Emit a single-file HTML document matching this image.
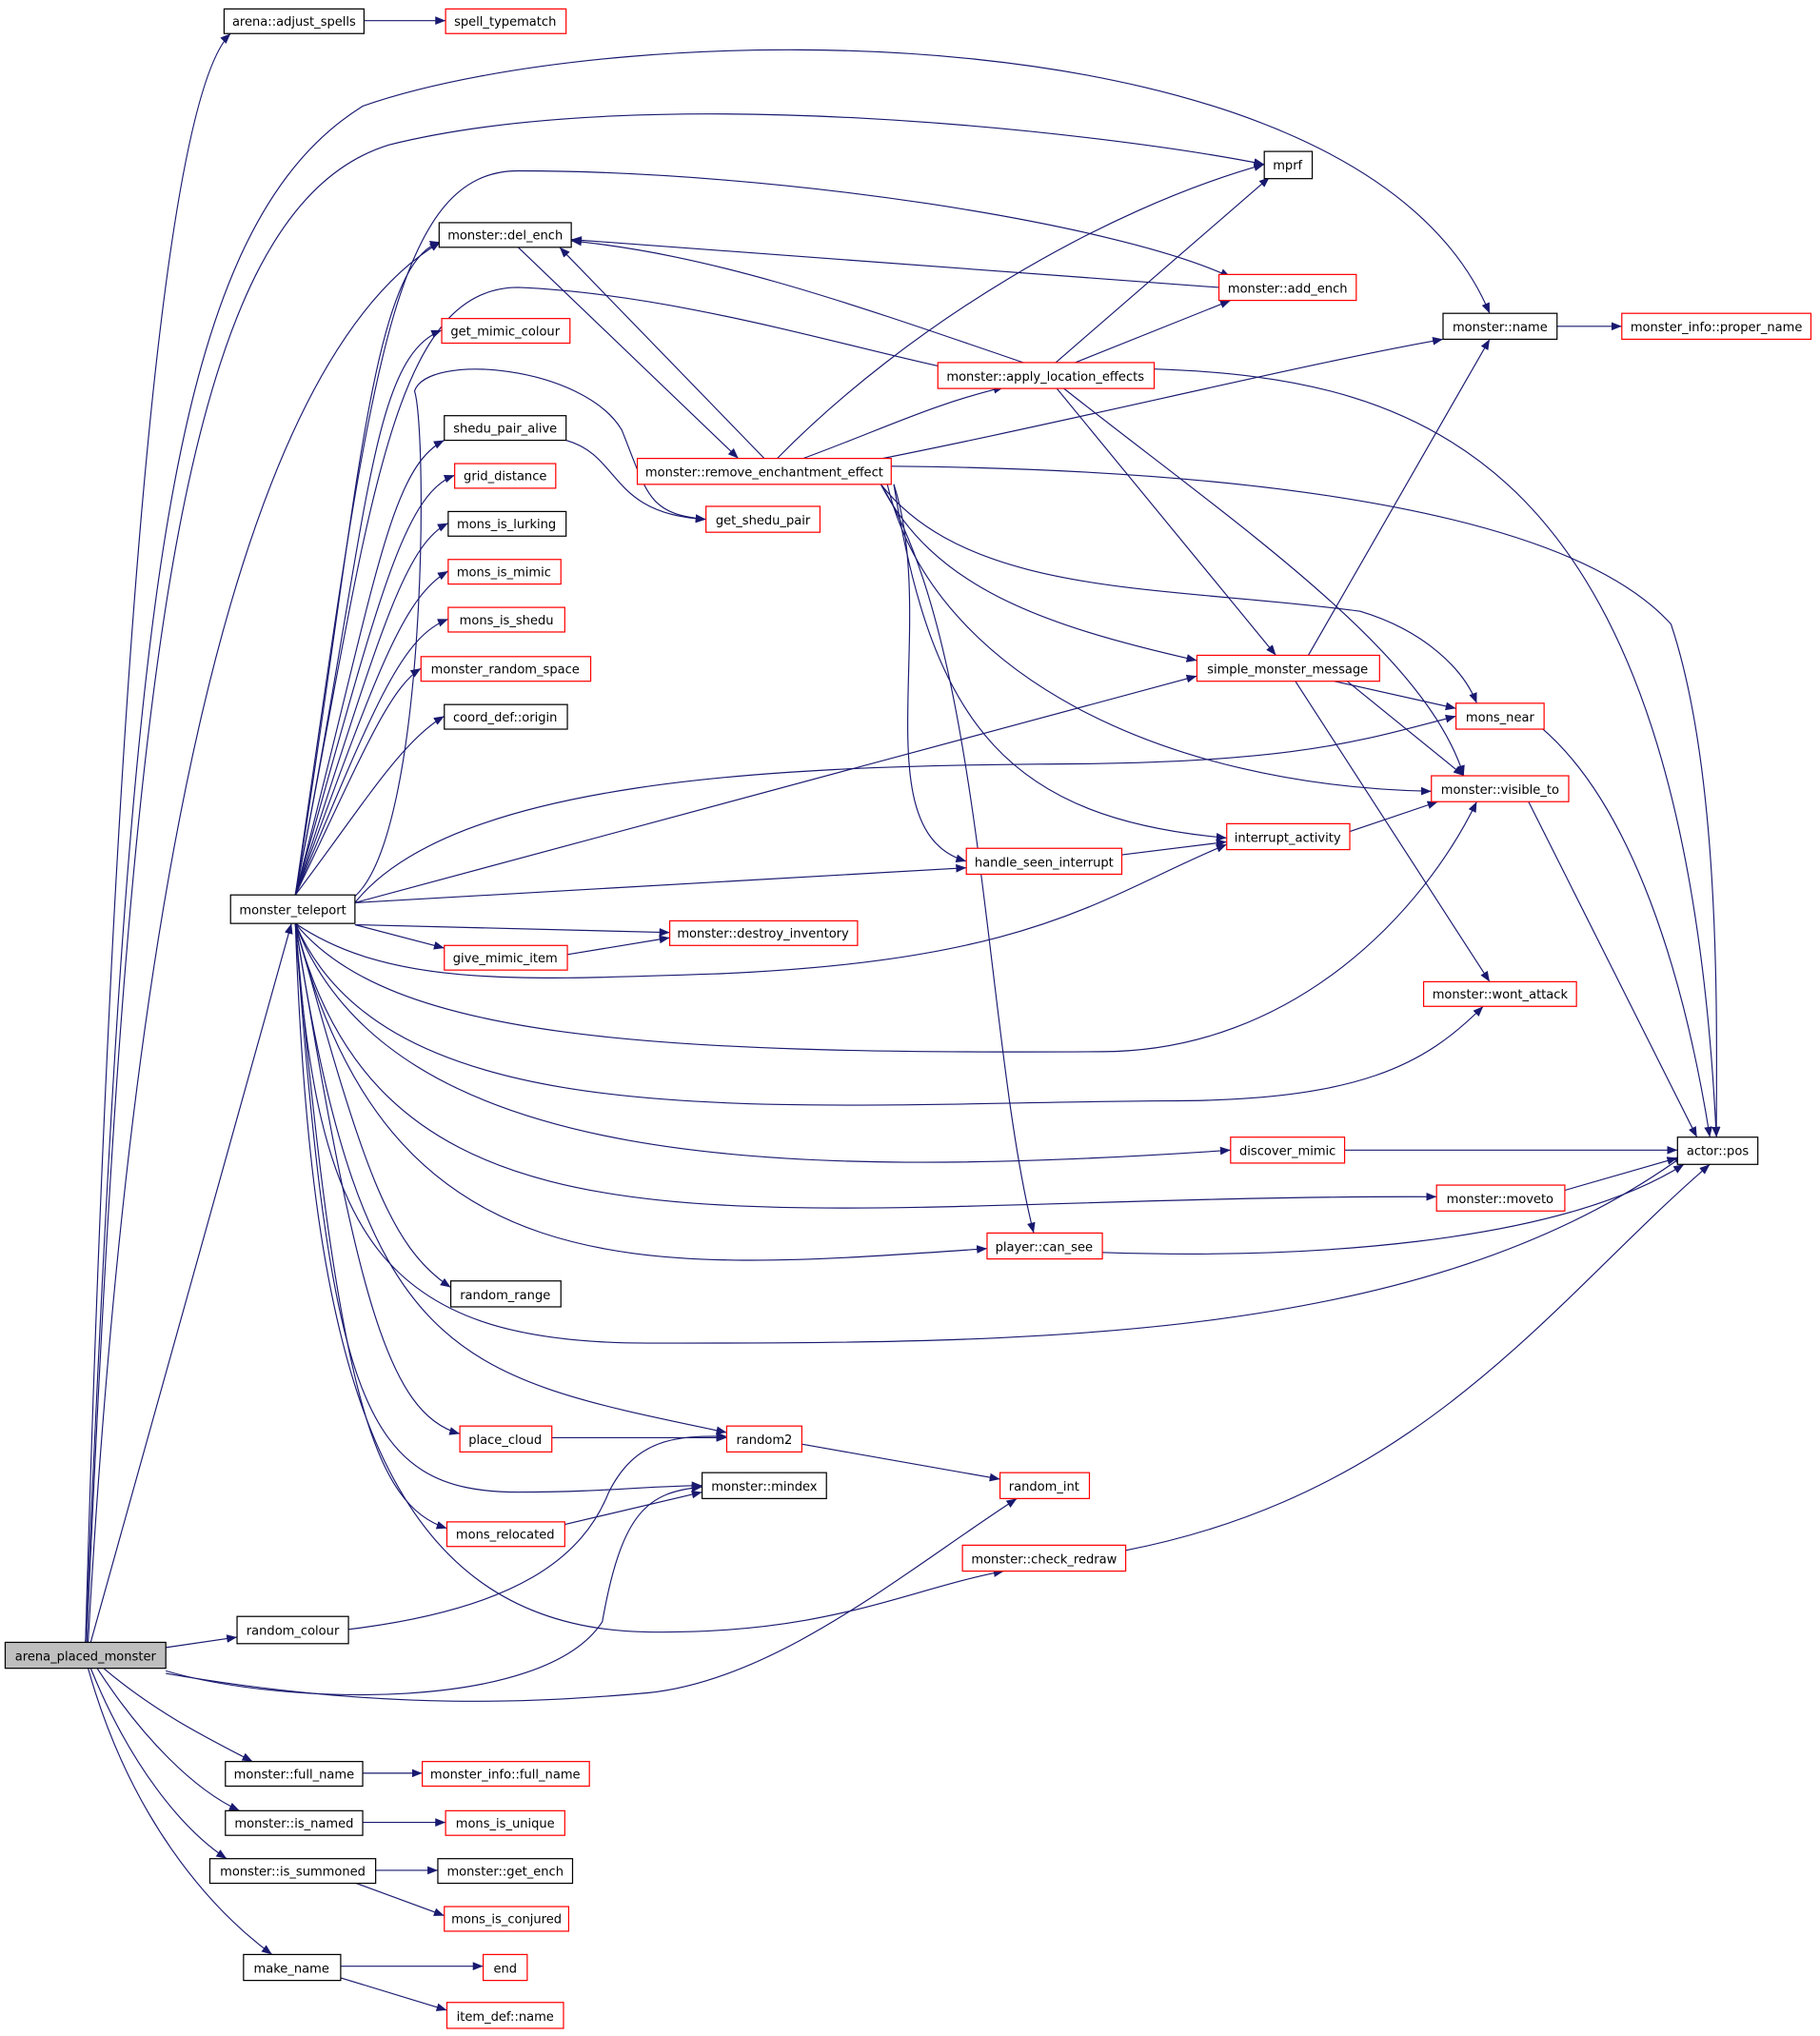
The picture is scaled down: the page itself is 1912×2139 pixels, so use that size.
<!DOCTYPE html>
<html><head><meta charset="utf-8"><style>
html,body{margin:0;padding:0;background:#fff;}
svg{display:block}
text{font-family:"DejaVu Sans","Liberation Sans",sans-serif;font-size:9.6px;fill:#000}
.e{fill:none;stroke:#191970;stroke-width:0.85}
.b{fill:#fff;stroke:#000;stroke-width:0.9}
.r{fill:#fff;stroke:#ff0000;stroke-width:0.9}
</style></head><body>
<svg width="1912" height="2139" viewBox="0 0 1405 1568" xmlns="http://www.w3.org/2000/svg">
<defs><marker id="a" viewBox="0 0 10 10" refX="10" refY="5" markerWidth="8" markerHeight="8" markerUnits="userSpaceOnUse" orient="auto"><path d="M0,1 L10,5 L0,9 z" fill="#191970"/></marker></defs>
<g class="e" marker-end="url(#a)">
<path d="M66,1266 C85,600 120,80 178,24"/>
<path d="M281,14 L344,14"/>
<path d="M66,1266 C100,500 120,180 280,80 C480,10 1050,0 1150,240"/>
<path d="M67,1266 C100,500 140,160 300,110 C500,60 850,100 976,125"/>
<path d="M68,1266 C100,700 180,280 340,185"/>
<path d="M70,1266 L225,711"/>
<path d="M128,1270 L183,1262"/>
<path d="M128,1288 C220,1315 420,1320 465,1250 C480,1165 500,1150 542,1146"/>
<path d="M128,1290 C300,1320 420,1312 500,1305 C600,1295 700,1210 785,1155"/>
<path d="M80,1286 C120,1320 160,1340 195,1358"/>
<path d="M75,1286 C110,1340 150,1380 185,1396"/>
<path d="M70,1286 C100,1360 140,1410 175,1433"/>
<path d="M68,1286 C100,1400 160,1470 210,1507"/>
<path d="M280,1367 L326,1367"/>
<path d="M280,1405 L344,1405"/>
<path d="M290,1442 L338,1442"/>
<path d="M275,1452 L343,1477"/>
<path d="M263,1516 L373,1516"/>
<path d="M263,1525 L345,1550"/>
<path d="M269,1256 C400,1240 450,1200 470,1150 C490,1110 520,1106 561,1107"/>
<path d="M1202,250 L1252,250"/>
<path d="M400,189 L570,352"/>
<path d="M590,352 L432,189"/>
<path d="M941,220 L441,183"/>
<path d="M790,278 C650,230 550,195 441,184"/>
<path d="M228,689 C285,400 300,220 400,220 C520,225 650,265 735,283"/>
<path d="M228,689 C285,300 300,130 400,130 C600,130 860,170 950,212"/>
<path d="M600,352 C700,250 850,160 976,125"/>
<path d="M815,278 L980,135"/>
<path d="M830,278 L950,230"/>
<path d="M620,352 C680,330 720,310 775,297"/>
<path d="M640,360 C800,330 1000,280 1114,260"/>
<path d="M891,283 C1100,290 1300,350 1325,876"/>
<path d="M688,358 C900,360 1200,380 1290,480 C1330,600 1325,800 1325,876"/>
<path d="M680,372 C720,450 800,480 924,508"/>
<path d="M680,372 C750,460 900,450 1050,470 C1100,485 1130,515 1140,541"/>
<path d="M685,372 C720,520 900,605 1105,609"/>
<path d="M690,372 C720,560 780,630 947,645"/>
<path d="M690,372 C725,480 665,640 746,663"/>
<path d="M680,372 C760,500 760,800 798,950"/>
<path d="M815,297 L985,504"/>
<path d="M820,297 C950,400 1100,500 1130,597"/>
<path d="M1010,504 L1150,260"/>
<path d="M1030,524 L1124,545"/>
<path d="M1040,524 L1130,597"/>
<path d="M1000,524 L1150,756"/>
<path d="M1190,560 C1260,620 1300,750 1320,876"/>
<path d="M1180,617 L1310,876"/>
<path d="M1042,640 L1110,617"/>
<path d="M866,658 L947,648"/>
<path d="M228,689 C275,400 285,200 340,185"/>
<path d="M228,689 C285,400 285,275 341,253"/>
<path d="M228,689 C290,450 300,360 343,338"/>
<path d="M228,689 C290,470 310,380 351,365"/>
<path d="M228,689 C290,500 310,420 346,402"/>
<path d="M228,689 C290,520 310,460 346,439"/>
<path d="M228,689 C290,540 310,490 346,476"/>
<path d="M228,689 C280,580 300,530 325,514"/>
<path d="M228,689 C280,620 310,570 343,551"/>
<path d="M274,690 C330,640 330,330 320,300 C330,270 450,280 480,330 C500,380 500,395 545,399"/>
<path d="M437,338 C480,350 470,395 545,399"/>
<path d="M274,695 C350,600 600,590 800,588 C1000,588 1050,570 1124,551"/>
<path d="M274,695 L924,520"/>
<path d="M274,695 L746,668"/>
<path d="M274,712 L517,718"/>
<path d="M274,712 L343,730"/>
<path d="M438,735 L517,722"/>
<path d="M228,711 C300,760 400,755 550,750 C800,740 850,690 947,650"/>
<path d="M228,711 C300,800 500,812 850,810 C1000,810 1100,700 1140,617"/>
<path d="M228,711 C300,880 600,850 900,848 C1050,848 1100,820 1145,775"/>
<path d="M228,711 C300,900 600,910 950,886"/>
<path d="M228,711 C300,1000 600,920 1109,922"/>
<path d="M228,711 C300,1000 500,980 762,962"/>
<path d="M228,711 C280,900 300,960 348,992"/>
<path d="M228,711 C245,950 290,1035 500,1035 C800,1035 1100,1035 1300,890"/>
<path d="M228,711 C280,1050 350,1060 561,1104"/>
<path d="M228,711 C275,1000 300,1090 355,1105"/>
<path d="M228,711 C255,1080 280,1150 400,1150 C470,1150 500,1145 542,1145"/>
<path d="M228,711 C260,1080 290,1160 345,1178"/>
<path d="M228,711 C240,1050 290,1255 500,1258 C640,1260 700,1225 775,1211"/>
<path d="M426,1108 L561,1108"/>
<path d="M619,1113 L772,1140"/>
<path d="M436,1175 L542,1150"/>
<path d="M869,1195 C1100,1150 1200,1000 1320,897"/>
<path d="M1038,886 L1295,886"/>
<path d="M1208,917 L1295,892"/>
<path d="M851,965 C1000,970 1200,960 1300,897"/>
</g>
<g>
<rect x="4" y="1266" width="124" height="20" fill="#bfbfbf" stroke="#000" stroke-width="0.9"/><text x="66" y="1280" text-anchor="middle">arena_placed_monster</text>
</g>
<g text-anchor="middle">
<rect class="b" x="173" y="5" width="108" height="19"/><text x="227" y="18">arena::adjust_spells</text>
<rect class="r" x="344" y="5" width="93" height="19"/><text x="390" y="18">spell_typematch</text>
<rect class="b" x="976" y="115" width="37" height="21"/><text x="994" y="129">mprf</text>
<rect class="b" x="339" y="170" width="102" height="19"/><text x="390" y="183">monster::del_ench</text>
<rect class="r" x="941" y="210" width="106" height="20"/><text x="994" y="224">monster::add_ench</text>
<rect class="b" x="1114" y="240" width="88" height="20"/><text x="1158" y="254">monster::name</text>
<rect class="r" x="1252" y="240" width="146" height="20"/><text x="1325" y="254">monster_info::proper_name</text>
<rect class="r" x="341" y="244" width="99" height="19"/><text x="390" y="257">get_mimic_colour</text>
<rect class="r" x="724" y="278" width="167" height="20"/><text x="807" y="292">monster::apply_location_effects</text>
<rect class="b" x="343" y="319" width="94" height="19"/><text x="390" y="332">shedu_pair_alive</text>
<rect class="r" x="492" y="352" width="196" height="20"/><text x="590" y="366">monster::remove_enchantment_effect</text>
<rect class="r" x="351" y="356" width="78" height="19"/><text x="390" y="369">grid_distance</text>
<rect class="r" x="545" y="389" width="88" height="20"/><text x="589" y="403">get_shedu_pair</text>
<rect class="b" x="346" y="393" width="91" height="19"/><text x="391" y="406">mons_is_lurking</text>
<rect class="r" x="346" y="430" width="87" height="19"/><text x="389" y="443">mons_is_mimic</text>
<rect class="r" x="346" y="467" width="90" height="19"/><text x="391" y="480">mons_is_shedu</text>
<rect class="r" x="924" y="504" width="141" height="20"/><text x="994" y="518">simple_monster_message</text>
<rect class="r" x="325" y="505" width="131" height="19"/><text x="390" y="518">monster_random_space</text>
<rect class="r" x="1124" y="541" width="68" height="20"/><text x="1158" y="555">mons_near</text>
<rect class="b" x="343" y="542" width="95" height="19"/><text x="390" y="555">coord_def::origin</text>
<rect class="r" x="1105" y="597" width="106" height="20"/><text x="1158" y="611">monster::visible_to</text>
<rect class="r" x="947" y="634" width="95" height="20"/><text x="994" y="648">interrupt_activity</text>
<rect class="r" x="746" y="653" width="120" height="20"/><text x="806" y="667">handle_seen_interrupt</text>
<rect class="b" x="178" y="689" width="96" height="22"/><text x="226" y="704">monster_teleport</text>
<rect class="r" x="517" y="709" width="145" height="19"/><text x="589" y="722">monster::destroy_inventory</text>
<rect class="r" x="343" y="728" width="95" height="19"/><text x="390" y="741">give_mimic_item</text>
<rect class="r" x="1099" y="756" width="118" height="19"/><text x="1158" y="769">monster::wont_attack</text>
<rect class="r" x="950" y="876" width="88" height="20"/><text x="994" y="890">discover_mimic</text>
<rect class="b" x="1295" y="876" width="62" height="21"/><text x="1326" y="890">actor::pos</text>
<rect class="r" x="1109" y="913" width="99" height="20"/><text x="1158" y="927">monster::moveto</text>
<rect class="r" x="762" y="950" width="89" height="20"/><text x="806" y="964">player::can_see</text>
<rect class="b" x="348" y="987" width="85" height="20"/><text x="390" y="1001">random_range</text>
<rect class="r" x="355" y="1099" width="71" height="20"/><text x="390" y="1113">place_cloud</text>
<rect class="r" x="561" y="1099" width="58" height="20"/><text x="590" y="1113">random2</text>
<rect class="b" x="542" y="1135" width="96" height="20"/><text x="590" y="1149">monster::mindex</text>
<rect class="r" x="772" y="1135" width="69" height="20"/><text x="806" y="1149">random_int</text>
<rect class="r" x="345" y="1173" width="91" height="19"/><text x="390" y="1186">mons_relocated</text>
<rect class="r" x="743" y="1191" width="126" height="20"/><text x="806" y="1205">monster::check_redraw</text>
<rect class="b" x="183" y="1246" width="86" height="21"/><text x="226" y="1260">random_colour</text>
<rect class="b" x="174" y="1358" width="106" height="19"/><text x="227" y="1371">monster::full_name</text>
<rect class="r" x="326" y="1358" width="129" height="19"/><text x="390" y="1371">monster_info::full_name</text>
<rect class="b" x="174" y="1396" width="106" height="19"/><text x="227" y="1409">monster::is_named</text>
<rect class="r" x="344" y="1396" width="92" height="19"/><text x="390" y="1409">mons_is_unique</text>
<rect class="b" x="162" y="1433" width="128" height="19"/><text x="226" y="1446">monster::is_summoned</text>
<rect class="b" x="338" y="1433" width="104" height="19"/><text x="390" y="1446">monster::get_ench</text>
<rect class="r" x="343" y="1470" width="96" height="19"/><text x="391" y="1483">mons_is_conjured</text>
<rect class="b" x="188" y="1507" width="75" height="20"/><text x="225" y="1521">make_name</text>
<rect class="r" x="373" y="1507" width="34" height="20"/><text x="390" y="1521">end</text>
<rect class="r" x="345" y="1544" width="90" height="20"/><text x="390" y="1558">item_def::name</text>
</g>
</svg>
</body></html>
